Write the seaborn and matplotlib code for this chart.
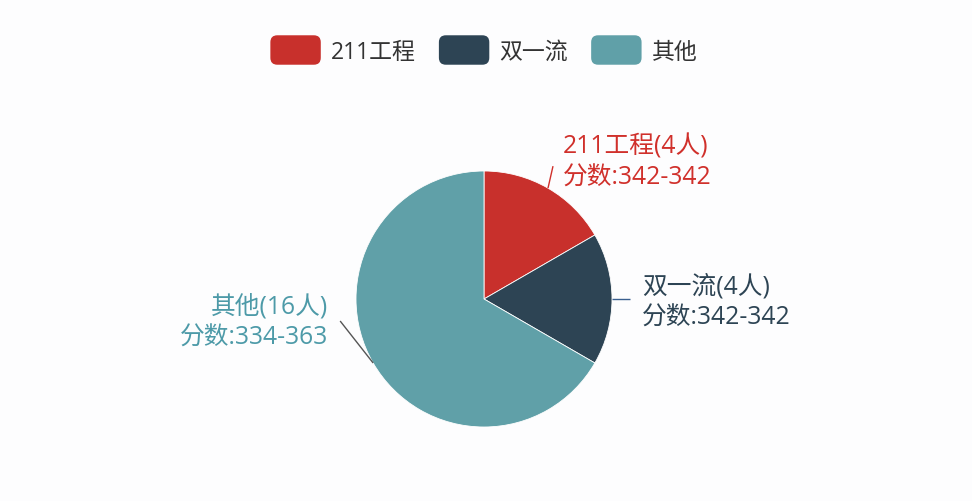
import matplotlib
matplotlib.use("Agg")
import matplotlib.pyplot as plt
import seaborn as sns
import numpy as np
from matplotlib.patches import Patch, FancyBboxPatch
from matplotlib.legend_handler import HandlerPatch

# 数据
categories = ["211工程", "双一流", "其他"]
counts = [4, 4, 16]
score_ranges = ["342-342", "342-342", "334-363"]
colors = ["#c8302c", "#2d4454", "#60a0a8"]
label_colors = ["#d0302b", "#2d4454", "#4d9aa8"]

sns.set_theme(style="white")
plt.rcParams['font.family'] = ['Open Sans', 'Noto Sans CJK SC', 'DejaVu Sans']

W, H = 972, 502
fig = plt.figure(figsize=(W / 100, H / 100), dpi=100)
fig.patch.set_facecolor("#fdfdfe")
ax = fig.add_axes([0, 0, 1, 1])

cx, cy, r = 484, H - 300, 128
wedges, _ = ax.pie(counts, colors=colors, startangle=90, counterclock=False,
                   center=(cx, cy), radius=r,
                   wedgeprops=dict(edgecolor="white", linewidth=0.6))
ax.set_xlim(0, W)
ax.set_ylim(0, H)
ax.set_aspect("equal")
ax.axis("off")

# 标签引导线: (线段终点偏移, 文字偏移, 对齐)
layout = [
    ((5, 22), (15, 27), "left"),
    ((18, 0), (30, -2), "left"),
    ((-33, 42), (-45, 42), "right"),
]
line_colors = ["#d0302b", "#3a5f8f", "#555555"]
for w, cat, n, sr, lc, llc, (loff, toff, ha) in zip(wedges, categories, counts, score_ranges,
                                                    label_colors, line_colors, layout):
    mid = np.deg2rad((w.theta1 + w.theta2) / 2)
    ex, ey = cx + r * np.cos(mid), cy + r * np.sin(mid)
    lx, ly = ex + loff[0], ey + loff[1]
    ax.plot([ex, lx], [ey, ly], color=llc, lw=1.0, solid_capstyle="butt")
    ax.text(ex + toff[0], ey + toff[1], f"{cat}({n}人)\n分数:{sr}",
            ha=ha, va="center", color=lc, fontsize=17.8, linespacing=1.33)


class RoundHandler(HandlerPatch):
    def create_artists(self, legend, orig_handle, xdescent, ydescent,
                       width, height, fontsize, trans):
        p = FancyBboxPatch((-xdescent, -ydescent), width, height,
                           boxstyle="round,pad=0,rounding_size=5",
                           facecolor=orig_handle.get_facecolor(),
                           edgecolor="none", transform=trans)
        return [p]


handles = [Patch(facecolor=c) for c in colors]
leg = fig.legend(handles, categories, loc="center", bbox_to_anchor=(484 / W, 1 - 51 / H),
                 ncol=3, frameon=False, fontsize=16.5, handlelength=2.2, handleheight=1.6,
                 handletextpad=0.45, columnspacing=1.0,
                 handler_map={Patch: RoundHandler()})
for t in leg.get_texts():
    t.set_color("#333333")

fig.savefig("out.png", dpi=100, facecolor=fig.get_facecolor())
